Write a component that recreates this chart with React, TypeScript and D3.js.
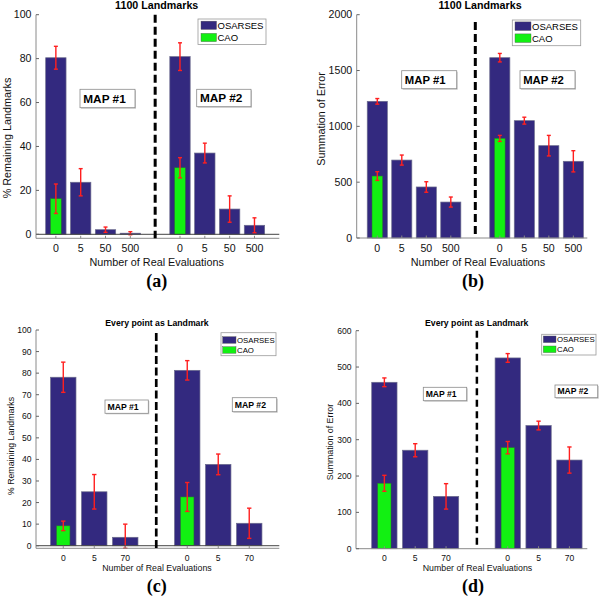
import React from "react";
import * as d3 from "d3";

// ---------- data ----------
const evalsAB = ["0", "5", "50", "500"];
const evalsCD = ["0", "5", "70"];
const mapNames = ["MAP #1", "MAP #2"];
const seriesNames = ["OSARSES", "CAO"];

// (a) 1100 Landmarks, % Remaining Landmarks  (MAP #1 then MAP #2)
const aOsarses = [80.4, 23.7, 2.1, 0.5, 80.9, 37.0, 11.5, 4.1];
const aOsarsesErr = [5.2, 6.2, 1.2, 0.7, 6.3, 4.5, 6.0, 3.4];
const aCao = [16.2, 30.3];
const aCaoErr = [6.7, 4.6];

// (b) 1100 Landmarks, Summation of Error
const bOsarses = [1224, 698, 457, 322, 1615, 1051, 827, 687];
const bOsarsesErr = [25, 45, 47, 45, 38, 31, 92, 95];
const bCao = [555, 892];
const bCaoErr = [39, 27];

// (c) Every point as Landmark, % Remaining Landmarks
const cOsarses = [78.1, 25.0, 3.9, 81.3, 37.7, 10.4];
const cOsarsesErr = [7.0, 8.0, 6.1, 4.5, 4.8, 7.0];
const cCao = [9.2, 22.6];
const cCaoErr = [2.2, 6.7];

// (d) Every point as Landmark, Summation of Error
const dOsarses = [458, 271, 144, 525, 339, 244];
const dOsarsesErr = [12, 18, 35, 12, 12, 36];
const dCao = [180, 278];
const dCaoErr = [22, 17];

const yTicksA = [0, 20, 40, 60, 80, 100];
const yTicksB = [0, 500, 1000, 1500, 2000];
const yTicksC = [0, 10, 20, 30, 40, 50, 60, 70, 80, 90, 100];
const yTicksD = [0, 100, 200, 300, 400, 500, 600];

const titleAB = "1100 Landmarks";
const titleCD = "Every point as Landmark";
const xLabel = "Number of Real Evaluations";
const yLabelPct = "% Remaining Landmarks";
const yLabelErr = "Summation of Error";

// ---------- styles ----------
const OSARSES_COLOR = "#33297f";
const CAO_COLOR = "#12f012";
const ERR_COLOR = "#ff1f1f";
const FONT = "Liberation Sans, Arial, sans-serif";

type Box = [number, number, number, number]; // x0,y0,x1,y1

interface PanelCfg {
  cats: string[];
  osarses: number[];
  osarsesErr: number[];
  cao: number[];
  caoErr: number[];
  yTicks: number[];
  yDomain: [number, number];
  yRange: [number, number];
  xDomain: [number, number];
  xRange: [number, number];
  title: string;
  titlePos: [number, number];
  yLabel: string;
  yLabelPos: [number, number];
  xLabelPos: [number, number];
  letter: string;
  letterPos: [number, number];
  tickFs: number;
  labelFs: number;
  titleFs: number;
  legendFs: number;
  mapFs: number;
  legendBox: Box;
  legendRows: [number, number];
  swatch: [number, number, number]; // x offset, width, height
  mapBoxes: [Box, Box];
  dash: [number, string, number]; // width, pattern, top pix
  tickY: number;
}

const panels: PanelCfg[] = [
  {
    cats: evalsAB, osarses: aOsarses, osarsesErr: aOsarsesErr, cao: aCao, caoErr: aCaoErr,
    yTicks: yTicksA, yDomain: [-1.82, 100], yRange: [238.3, 14.7],
    xDomain: [0.2, 10], xRange: [36, 279.3],
    title: titleAB, titlePos: [156.7, 8.6],
    yLabel: yLabelPct, yLabelPos: [10.8, 138],
    xLabelPos: [156.7, 265.5],
    letter: "(a)", letterPos: [156.7, 287],
    tickFs: 10.6, labelFs: 10.8, titleFs: 10.7, legendFs: 9.5, mapFs: 11.8,
    legendBox: [198, 19, 266, 44.5], legendRows: [25.3, 37.5], swatch: [3, 15.5, 8.3],
    mapBoxes: [[80, 89.3, 135, 107.7], [196.7, 89.3, 251, 106.7]],
    dash: [3, "8,4", 14.7], tickY: 252.2,
  },
  {
    cats: evalsAB, osarses: bOsarses, osarsesErr: bOsarsesErr, cao: bCao, caoErr: bCaoErr,
    yTicks: yTicksB, yDomain: [0, 2000], yRange: [238, 14.7],
    xDomain: [0.16, 9.57], xRange: [356.7, 587.3],
    title: titleAB, titlePos: [480, 8.6],
    yLabel: yLabelErr, yLabelPos: [325, 119],
    xLabelPos: [478, 265.5],
    letter: "(b)", letterPos: [473, 287],
    tickFs: 10.6, labelFs: 10.8, titleFs: 10.7, legendFs: 9.5, mapFs: 11.3,
    legendBox: [512.3, 20, 580.7, 45.7], legendRows: [26.2, 38.2], swatch: [2.7, 16, 8.6],
    mapBoxes: [[401.7, 70.7, 456.7, 88.7], [520, 70.7, 575, 88.7]],
    dash: [3, "8,4", 22], tickY: 252.2,
  },
  {
    cats: evalsCD, osarses: cOsarses, osarsesErr: cOsarsesErr, cao: cCao, caoErr: cCaoErr,
    yTicks: yTicksC, yDomain: [-1.2, 100], yRange: [548.3, 330],
    xDomain: [0.12, 7.97], xRange: [36, 279.3],
    title: titleCD, titlePos: [157, 326.3],
    yLabel: yLabelPct, yLabelPos: [14, 446],
    xLabelPos: [157, 570.8],
    letter: "(c)", letterPos: [156.7, 592],
    tickFs: 8.6, labelFs: 8.8, titleFs: 8.7, legendFs: 7.8, mapFs: 8.7,
    legendBox: [221, 332.7, 276, 355.7], legendRows: [340, 350], swatch: [1.7, 13.3, 6.6],
    mapBoxes: [[105, 400, 148.3, 413.3], [232.3, 397.7, 276.7, 411.7]],
    dash: [2.7, "8,3.5", 333], tickY: 560.5,
  },
  {
    cats: evalsCD, osarses: dOsarses, osarsesErr: dOsarsesErr, cao: dCao, caoErr: dCaoErr,
    yTicks: yTicksD, yDomain: [0, 600], yRange: [548.7, 330.7],
    xDomain: [0.08, 7.58], xRange: [356, 587.3],
    title: titleCD, titlePos: [476.7, 326.3],
    yLabel: yLabelErr, yLabelPos: [333, 442],
    xLabelPos: [477.5, 570.8],
    letter: "(d)", letterPos: [473, 592],
    tickFs: 8.6, labelFs: 8.8, titleFs: 8.7, legendFs: 7.8, mapFs: 8.6,
    legendBox: [541.7, 334.3, 596, 355], legendRows: [339.3, 349.3], swatch: [1.6, 12.7, 6.6],
    mapBoxes: [[423.3, 387.3, 466.7, 400.7], [555, 385, 597.7, 397.7]],
    dash: [2.5, "7,4.5", 330.7], tickY: 560.5,
  },
];

function ErrBar({ x, y0, y1, cap }: { x: number; y0: number; y1: number; cap: number }) {
  return (
    <g stroke={ERR_COLOR} strokeWidth={1.4}>
      <line x1={x} x2={x} y1={y0} y2={y1} />
      <line x1={x - cap} x2={x + cap} y1={y0} y2={y0} />
      <line x1={x - cap} x2={x + cap} y1={y1} y2={y1} />
    </g>
  );
}

function Panel({ p }: { p: PanelCfg }) {
  const x = d3.scaleLinear().domain(p.xDomain).range(p.xRange);
  const y = d3.scaleLinear().domain(p.yDomain).range(p.yRange);
  const n = p.cats.length;
  const positions = [
    ...p.cats.map((_, i) => i + 1),
    ...p.cats.map((_, i) => n + 2 + i),
  ];
  const labels = [...p.cats, ...p.cats];
  const caoPos = [1, n + 2];
  const dividerPos = n + 1;
  const step = x(2) - x(1);
  const wBar = step * 0.82;
  const wCao = step * 0.43;
  const cap = Math.max(2, step * 0.07);
  const [yMin, yMax] = p.yDomain;
  const clampV = (v: number) => Math.max(yMin, Math.min(yMax, v));
  const baseY = y(0);
  const axisY = p.yRange[0];
  const leftX = p.xRange[0];
  const rightX = p.xRange[1];

  return (
    <g fontFamily={FONT}>
      {/* title */}
      <text x={p.titlePos[0]} y={p.titlePos[1]} textAnchor="middle" fontWeight="bold" fontSize={p.titleFs}>
        {p.title}
      </text>

      {/* OSARSES bars */}
      {p.osarses.map((v, i) => (
        <rect key={"o" + i} x={x(positions[i]) - wBar / 2} y={y(v)} width={wBar} height={baseY - y(v)}
          fill={OSARSES_COLOR} stroke="#6b6b8c" strokeWidth={0.7} />
      ))}
      {/* CAO bars */}
      {p.cao.map((v, i) => (
        <rect key={"c" + i} x={x(caoPos[i]) - wCao / 2} y={y(v)} width={wCao} height={baseY - y(v)}
          fill={CAO_COLOR} stroke="#2a7a2a" strokeWidth={0.5} />
      ))}
      {/* error bars */}
      {p.osarses.map((v, i) => (
        <ErrBar key={"oe" + i} x={x(positions[i])} y0={y(clampV(v + p.osarsesErr[i]))}
          y1={y(clampV(v - p.osarsesErr[i]))} cap={cap} />
      ))}
      {p.cao.map((v, i) => (
        <ErrBar key={"ce" + i} x={x(caoPos[i])} y0={y(clampV(v + p.caoErr[i]))}
          y1={y(clampV(v - p.caoErr[i]))} cap={cap} />
      ))}

      {/* zero baseline */}
      {yMin < 0 && (
        <line x1={leftX} x2={rightX} y1={baseY} y2={baseY} stroke="#444" strokeWidth={1} />
      )}

      {/* axes */}
      <line x1={leftX} x2={leftX} y1={axisY} y2={p.yRange[1]} stroke="#8a8a8a" strokeWidth={1} />
      <line x1={leftX} x2={rightX} y1={axisY} y2={axisY} stroke="#8a8a8a" strokeWidth={1} />
      {p.yTicks.map((t) => (
        <g key={"yt" + t}>
          <line x1={leftX} x2={leftX + 3} y1={y(t)} y2={y(t)} stroke="#666" />
          <text x={leftX - 4.5} y={y(t)} dy="0.35em" textAnchor="end" fontSize={p.tickFs} fill="#111">
            {t}
          </text>
        </g>
      ))}
      {positions.map((pos, i) => (
        <g key={"xt" + i}>
          <line x1={x(pos)} x2={x(pos)} y1={axisY} y2={axisY - 2.5} stroke="#888" />
          <text x={x(pos)} y={p.tickY} textAnchor="middle" fontSize={p.tickFs} fill="#111">
            {labels[i]}
          </text>
        </g>
      ))}

      {/* divider */}
      <line x1={x(dividerPos)} x2={x(dividerPos)} y1={p.dash[2]} y2={axisY} stroke="#000"
        strokeWidth={p.dash[0]} strokeDasharray={p.dash[1]} />

      {/* axis labels */}
      <text x={p.xLabelPos[0]} y={p.xLabelPos[1]} textAnchor="middle" fontSize={p.labelFs} fill="#111">
        {xLabel}
      </text>
      <text transform={`translate(${p.yLabelPos[0]},${p.yLabelPos[1]}) rotate(-90)`} textAnchor="middle"
        fontSize={p.labelFs} fill="#111">
        {p.yLabel}
      </text>

      {/* MAP boxes */}
      {p.mapBoxes.map((b, i) => (
        <g key={"m" + i}>
          <rect x={b[0] + 1} y={b[1] + 1} width={b[2] - b[0]} height={b[3] - b[1]} fill="#c8c8c8" />
          <rect x={b[0]} y={b[1]} width={b[2] - b[0]} height={b[3] - b[1]} fill="#fff" stroke="#8c8c8c" strokeWidth={0.8} />
          <text x={b[0] + p.mapFs * 0.28} y={(b[1] + b[3]) / 2} dy="0.36em" fontWeight="bold" fontSize={p.mapFs} fill="#000">
            {mapNames[i]}
          </text>
        </g>
      ))}

      {/* legend */}
      <g>
        <rect x={p.legendBox[0]} y={p.legendBox[1]} width={p.legendBox[2] - p.legendBox[0]}
          height={p.legendBox[3] - p.legendBox[1]} fill="#fff" stroke="#9a9a9a" strokeWidth={0.8} />
        {seriesNames.map((s, i) => (
          <g key={"l" + i}>
            <rect x={p.legendBox[0] + p.swatch[0]} y={p.legendRows[i] - p.swatch[2] / 2} width={p.swatch[1]}
              height={p.swatch[2]} fill={i === 0 ? OSARSES_COLOR : CAO_COLOR} stroke="#555" strokeWidth={0.4} />
            <text x={p.legendBox[0] + p.swatch[0] + p.swatch[1] + 1} y={p.legendRows[i]} dy="0.36em"
              fontSize={p.legendFs} fill="#000">
              {s}
            </text>
          </g>
        ))}
      </g>

      {/* panel letter */}
      <text x={p.letterPos[0]} y={p.letterPos[1]} textAnchor="middle" fontWeight="bold" fontSize={18}
        fontFamily="Liberation Serif, Times New Roman, serif">
        {p.letter}
      </text>
    </g>
  );
}

export default function App() {
  return (
    <svg width={602} height={598} viewBox="0 0 602 598"
      style={{ position: "absolute", left: 0, top: 0, background: "#fff" }}>
      <rect width={602} height={598} fill="#fff" />
      {panels.map((p, i) => (
        <Panel key={i} p={p} />
      ))}
    </svg>
  );
}
